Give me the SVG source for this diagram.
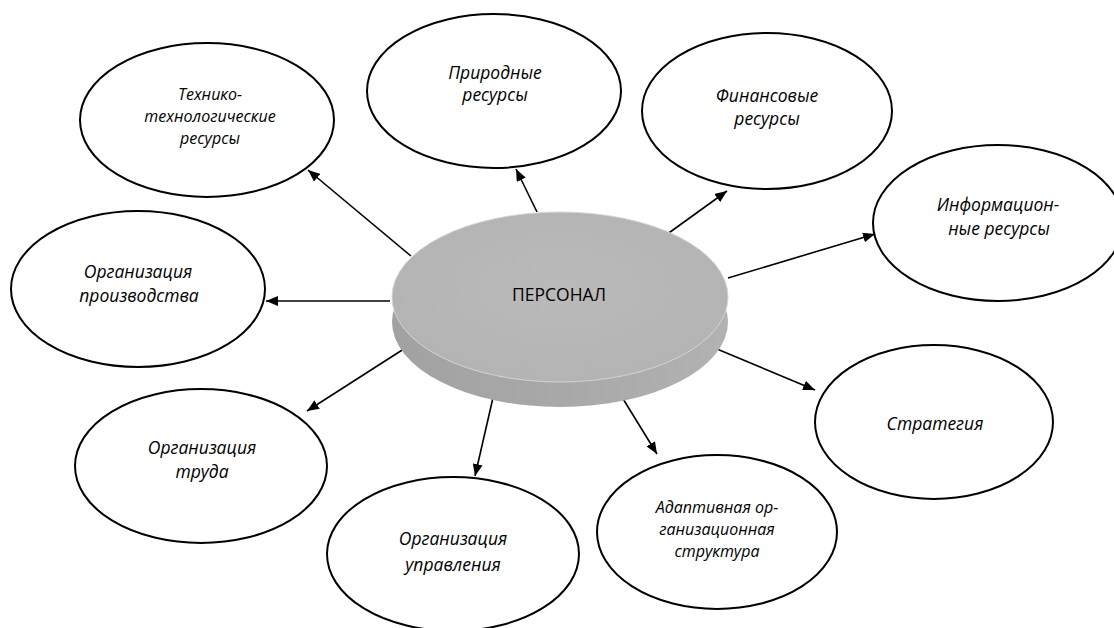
<svg xmlns="http://www.w3.org/2000/svg" width="1114" height="628" viewBox="0 0 1114 628">
<style>
.node{fill:#fff;stroke:#000;stroke-width:2}
.lbl{font-family:"Open Sans","DejaVu Sans",sans-serif;font-style:italic;font-size:17.5px;fill:#000;text-anchor:middle}
.sm{font-size:16px}
.ctr{font-family:"Open Sans","DejaVu Sans",sans-serif;font-size:17.5px;fill:#000;text-anchor:middle}
.con{stroke:#000;stroke-width:1.6;fill:none;marker-end:url(#arr)}
</style>
<defs>
<marker id="arr" viewBox="0 0 12 10" refX="12" refY="5" markerWidth="12" markerHeight="10" markerUnits="userSpaceOnUse" orient="auto">
<path d="M0,0 L12,5 L0,10 z" fill="#000"/>
</marker>
<linearGradient id="side" x1="0" y1="0" x2="1" y2="0">
<stop offset="0" stop-color="#a2a2a2"/>
<stop offset="0.5" stop-color="#a8a8a8"/>
<stop offset="1" stop-color="#b2b2b2"/>
</linearGradient>
<radialGradient id="top" cx="0.5" cy="0.45" r="0.6">
<stop offset="0" stop-color="#bababa"/>
<stop offset="1" stop-color="#b3b3b3"/>
</radialGradient>
</defs>
<rect width="1114" height="628" fill="#fff"/>

<g id="connectors">
<line class="con" x1="411" y1="256" x2="308" y2="170"/>
<line class="con" x1="537" y1="212" x2="516" y2="169"/>
<line class="con" x1="666" y1="235" x2="727" y2="191"/>
<line class="con" x1="728" y1="278" x2="875" y2="234"/>
<line class="con" x1="390" y1="301" x2="266" y2="301"/>
<line class="con" x1="410" y1="345" x2="307" y2="411"/>
<line class="con" x1="495" y1="389" x2="475" y2="476"/>
<line class="con" x1="617" y1="389" x2="657" y2="454"/>
<line class="con" x1="705" y1="344" x2="815" y2="390"/>
</g>

<g id="personnel">
<ellipse cx="560" cy="322" rx="168" ry="85" fill="url(#side)"/>
<ellipse cx="560" cy="297" rx="168" ry="85" fill="url(#top)" stroke="#d4d4d4" stroke-width="1"/>
<text class="ctr" x="559" y="301">ПЕРСОНАЛ</text>
</g>

<g id="tech">
<ellipse class="node" cx="207" cy="120" rx="127" ry="77"/>
<text class="lbl sm" x="210" y="100">Технико-</text>
<text class="lbl sm" x="210" y="122">технологические</text>
<text class="lbl sm" x="210" y="144">ресурсы</text>
</g>

<g id="natural">
<ellipse class="node" cx="494" cy="91" rx="127" ry="77"/>
<text class="lbl" x="495" y="79">Природные</text>
<text class="lbl" x="495" y="101">ресурсы</text>
</g>

<g id="finance">
<ellipse class="node" cx="767" cy="111" rx="125" ry="78"/>
<text class="lbl" x="767" y="102">Финансовые</text>
<text class="lbl" x="767" y="125">ресурсы</text>
</g>

<g id="info">
<ellipse class="node" cx="998" cy="223" rx="125" ry="78"/>
<text class="lbl" x="998" y="211">Информацион-</text>
<text class="lbl" x="999" y="235">ные ресурсы</text>
</g>

<g id="production">
<ellipse class="node" cx="138" cy="289" rx="127" ry="78"/>
<text class="lbl" x="138" y="278">Организация</text>
<text class="lbl" x="139" y="302">производства</text>
</g>

<g id="labour">
<ellipse class="node" cx="201" cy="466" rx="126" ry="77"/>
<text class="lbl" x="202" y="454">Организация</text>
<text class="lbl" x="202" y="478">труда</text>
</g>

<g id="management">
<ellipse class="node" cx="453" cy="554" rx="126" ry="77"/>
<text class="lbl" x="453" y="545">Организация</text>
<text class="lbl" x="453" y="571">управления</text>
</g>

<g id="structure">
<ellipse class="node" cx="717" cy="532" rx="120" ry="77"/>
<text class="lbl sm" x="717" y="513">Адаптивная ор-</text>
<text class="lbl sm" x="717" y="535">ганизационная</text>
<text class="lbl sm" x="717" y="557">структура</text>
</g>

<g id="strategy">
<ellipse class="node" cx="934" cy="422" rx="119" ry="77"/>
<text class="lbl" x="935" y="430">Стратегия</text>
</g>
</svg>
